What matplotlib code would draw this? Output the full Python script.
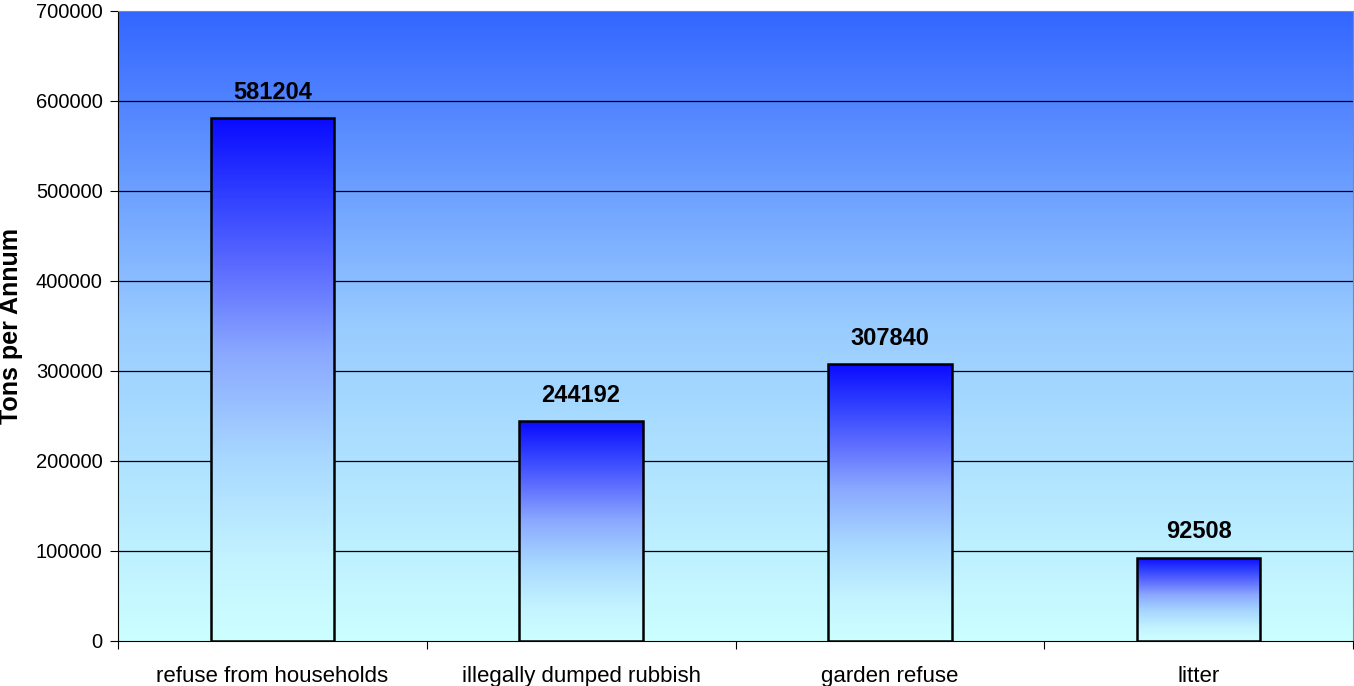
import numpy as np
import matplotlib.pyplot as plt
from matplotlib.colors import LinearSegmentedColormap
from matplotlib.patches import Rectangle

categories = ["refuse from households", "illegally dumped rubbish", "garden refuse", "litter"]
tons = [581204, 244192, 307840, 92508]
yticks = [0, 100000, 200000, 300000, 400000, 500000, 600000, 700000]

plt.rcParams['font.family'] = ['Liberation Sans', 'DejaVu Sans']

fig = plt.figure(figsize=(13.54, 6.86), dpi=100)
ax = fig.add_axes([118 / 1354, 45 / 686, 1235 / 1354, 630 / 686])

n = len(categories)
ax.set_xlim(0, n)
ax.set_ylim(0, 700000)

# background: light cyan at the bottom up to blue at the top
bg = LinearSegmentedColormap.from_list("bg", ["#ccffff", "#99ccff", "#3366ff"])
grad = np.linspace(0, 1, 256).reshape(-1, 1)
ax.imshow(grad, cmap=bg, origin="lower", aspect="auto",
          extent=(0, n, 0, 700000), zorder=0)

for y in yticks[1:-1]:
    ax.axhline(y, color="black", lw=0.9, zorder=1)

# bars filled with their own vertical gradient
barcm = LinearSegmentedColormap.from_list(
    "bar", [(0.0, "#ccffff"), (0.15, "#c4f4ff"), (0.35, "#a8d8ff"),
            (0.55, "#8aa8ff"), (0.7, "#6070ff"), (0.85, "#3040ff"),
            (1.0, "#0a0aff")])
width = 0.4
for i, v in enumerate(tons):
    x0 = i + 0.5 - width / 2
    im = ax.imshow(grad, cmap=barcm, origin="lower", aspect="auto",
                   extent=(x0, x0 + width, 0, v), zorder=2)
    rect = Rectangle((x0, 0), width, v, fill=False, ec="black", lw=1.8, zorder=3)
    ax.add_patch(rect)
    im.set_clip_path(rect)
    ax.text(i + 0.5, v + 16000, str(v), ha="center", va="bottom",
            fontsize=17, fontweight="bold", zorder=4)

ax.set_xlim(0, n)
ax.set_ylim(0, 700000)

ax.set_xticks(range(n + 1))
ax.set_xticklabels([])
ax.set_xticks([i + 0.5 for i in range(n)], minor=True)
ax.set_xticklabels(categories, minor=True, fontsize=16)
ax.tick_params(axis="x", which="minor", length=0, pad=18)
ax.tick_params(axis="x", which="major", length=6, color="black")

ax.set_yticks(yticks)
ax.set_yticklabels([str(t) for t in yticks], fontsize=14.5)
ax.tick_params(axis="y", length=6, direction="out", pad=5)

ax.set_ylabel("Tons per Annum", fontsize=18, fontweight="bold")
ax.yaxis.set_label_coords(-0.077, 0.5)

for side in ["top", "right"]:
    ax.spines[side].set_color("#888888")
ax.spines["left"].set_color("black")
ax.spines["bottom"].set_color("black")

fig.savefig("out.png", dpi=100)
